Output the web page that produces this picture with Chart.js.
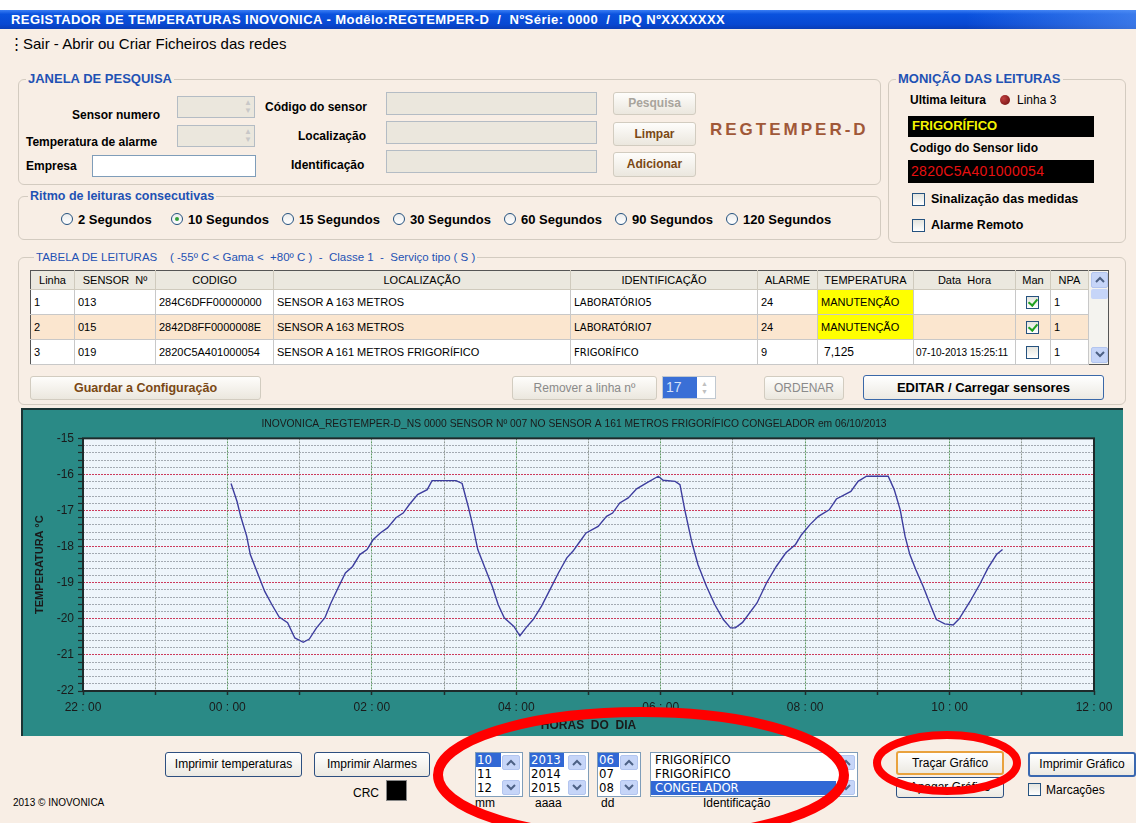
<!DOCTYPE html>
<html lang="pt">
<head>
<meta charset="utf-8">
<title>REGTEMPER-D</title>
<script src="https://cdn.jsdelivr.net/npm/chart.js@4.4.1/dist/chart.umd.min.js"></script>
<style>
  body { margin:0; width:1136px; height:823px; overflow:hidden; position:relative; background:#f8eee5; font-family:"Liberation Sans", Arial, sans-serif; color:#000; }
  .a { position:absolute; white-space:nowrap; }
  .grp { position:absolute; border:1px solid #d3cbc0; border-radius:6px; }
  .gt { position:absolute; background:#f8eee5; color:#1f52b4; font-weight:bold; font-size:13px; line-height:15px; padding:0 2px; white-space:nowrap; }
  .lb { position:absolute; font-weight:bold; font-size:12px; line-height:14px; white-space:nowrap; }
  .fld { position:absolute; background:#ebe7dd; border:1px solid #b4bcc4; box-sizing:border-box; }
  .btn { position:absolute; box-sizing:border-box; border:1px solid #d2ccc0; border-radius:3px; background:linear-gradient(#fefdfb,#ebe7de); text-align:center; font-size:12px; white-space:nowrap; }
  .btn2 { position:absolute; box-sizing:border-box; border:1px solid #2d4f80; border-radius:3px; background:linear-gradient(#ffffff,#ece9e2); text-align:center; font-size:12px; white-space:nowrap; }
  .rad { position:absolute; width:12px; height:12px; border:1px solid #25527f; border-radius:50%; background:linear-gradient(#ececec,#ffffff); box-sizing:border-box; }
  .rad.on::after { content:""; position:absolute; left:3px; top:3px; width:4px; height:4px; border-radius:50%; background:#34a03c; }
  .rl { position:absolute; font-weight:bold; font-size:13px; line-height:15px; white-space:nowrap; }
  .chk { position:absolute; width:13px; height:13px; border:1px solid #25527f; background:linear-gradient(#e4e4de,#ffffff); box-sizing:border-box; }
  .chk.on::after { content:""; position:absolute; left:3px; top:0px; width:4px; height:7px; border:solid #21a121; border-width:0 2px 2px 0; transform:rotate(40deg); }
  table.tb { position:absolute; left:30px; top:270px; border-collapse:collapse; font-size:11px; background:#fff; border:1px solid #555; table-layout:fixed; }
  table.tb th { background:#ebe8df; font-weight:normal; height:18px; padding:0; border-right:1px solid #cfcabd; border-bottom:1px solid #cfcabd; }
  table.tb td { height:24px; padding:0 0 0 3px; border-right:1px solid #c8c8c8; border-bottom:1px solid #c8c8c8; overflow:hidden; white-space:nowrap; }
  table.tb tr.r2 td { background:#fbe6cf; }
  table.tb td.y { background:#ffff00 !important; }
  table.tb td.id { font-family:"DejaVu Sans", sans-serif; font-size:10px; }
  .lst { position:absolute; background:#fff; border:1px solid #7f9db9; box-sizing:border-box; font-family:"Liberation Sans Narrow","DejaVu Sans Condensed","Liberation Sans",sans-serif; font-size:13px; line-height:13px; }
  .lst div.it { padding-left:1px; height:14px; }
  .lst div.sel { background:#3168d5; color:#fff; }
  .arw { position:absolute; width:18px; height:15px; background:#c6d5f8; border:1px solid #b3c5ef; border-radius:2px; box-sizing:border-box; }
  .arw svg { position:absolute; left:3px; top:3px; }
</style>
</head>
<body>
<div class="a" style="left:0;top:0;width:1136px;height:10px;background:#fff"></div>
<div class="a" style="left:0;top:10px;width:1136px;height:19px;background:linear-gradient(to right,rgba(0,0,0,0) 85%,rgba(90,150,245,0.6)),linear-gradient(#3a7ef4 0%,#0a52de 22%,#0848d2 75%,#0a3db6 100%)"></div>
<div class="a" style="left:11px;top:12px;font-size:13px;line-height:15px;font-weight:bold;color:#fff;letter-spacing:0.45px">REGISTADOR DE TEMPERATURAS INOVONICA - Modêlo:REGTEMPER-D &nbsp;/&nbsp; NºSérie: 0000 &nbsp;/&nbsp; IPQ NºXXXXXXX</div>

<div class="a" style="left:9px;top:35px;font-size:15px;line-height:18px">⋮</div>
<div class="a" style="left:23px;top:35px;font-size:15px;line-height:18px">Sair - Abrir ou Criar Ficheiros das redes</div>

<!-- JANELA DE PESQUISA -->
<div class="grp" style="left:18px;top:79px;width:861px;height:104px"></div>
<div class="gt" style="left:26px;top:71px">JANELA DE PESQUISA</div>
<div class="lb" style="left:72px;top:108px">Sensor numero</div>
<div class="lb" style="left:26px;top:135px">Temperatura de alarme</div>
<div class="lb" style="left:26px;top:159px">Empresa</div>
<div class="fld" style="left:177px;top:96px;width:78px;height:22px"><div class="a" style="right:2px;top:2px;color:#c8c8c8;font-size:8px;line-height:8px">▲<br>▼</div></div>
<div class="fld" style="left:177px;top:125px;width:78px;height:22px"><div class="a" style="right:2px;top:2px;color:#c8c8c8;font-size:8px;line-height:8px">▲<br>▼</div></div>
<div class="fld" style="left:92px;top:155px;width:164px;height:22px;background:#fff;border-color:#7f9db9"></div>
<div class="lb" style="left:265px;top:100px">Código do sensor</div>
<div class="lb" style="left:298px;top:129px">Localização</div>
<div class="lb" style="left:291px;top:158px">Identificação</div>
<div class="fld" style="left:386px;top:92px;width:211px;height:23px"></div>
<div class="fld" style="left:386px;top:121px;width:211px;height:23px"></div>
<div class="fld" style="left:386px;top:150px;width:211px;height:23px"></div>
<div class="btn" style="left:613px;top:92px;width:83px;height:23px;line-height:21px;color:#a8a49c;font-weight:bold">Pesquisa</div>
<div class="btn" style="left:613px;top:122px;width:83px;height:24px;line-height:22px;color:#7a4814;font-weight:bold">Limpar</div>
<div class="btn" style="left:613px;top:152px;width:83px;height:25px;line-height:23px;color:#7a4814;font-weight:bold">Adicionar</div>
<div class="a" style="left:710px;top:120px;font-size:17px;line-height:20px;font-weight:bold;color:#a05838;letter-spacing:3px">REGTEMPER-D</div>

<!-- Ritmo de leituras -->
<div class="grp" style="left:18px;top:196px;width:861px;height:42px"></div>
<div class="gt" style="left:28px;top:189px;font-size:12.5px">Ritmo de leituras consecutivas</div>
<div class="rad" style="left:61px;top:213px"></div><div class="rl" style="left:78px;top:212px">2 Segundos</div>
<div class="rad on" style="left:171px;top:213px"></div><div class="rl" style="left:188px;top:212px">10 Segundos</div>
<div class="rad" style="left:282px;top:213px"></div><div class="rl" style="left:299px;top:212px">15 Segundos</div>
<div class="rad" style="left:393px;top:213px"></div><div class="rl" style="left:410px;top:212px">30 Segundos</div>
<div class="rad" style="left:504px;top:213px"></div><div class="rl" style="left:521px;top:212px">60 Segundos</div>
<div class="rad" style="left:615px;top:213px"></div><div class="rl" style="left:632px;top:212px">90 Segundos</div>
<div class="rad" style="left:726px;top:213px"></div><div class="rl" style="left:743px;top:212px">120 Segundos</div>

<!-- MONIÇÃO DAS LEITURAS -->
<div class="grp" style="left:888px;top:79px;width:236px;height:162px"></div>
<div class="gt" style="left:896px;top:71px">MONIÇÃO DAS LEITURAS</div>
<div class="lb" style="left:910px;top:93px">Ultima leitura</div>
<div class="a" style="left:1000px;top:95px;width:10px;height:10px;border-radius:50%;background:radial-gradient(circle at 35% 35%,#c04040,#6a0c0c)"></div>
<div class="a" style="left:1017px;top:93px;font-size:12px;line-height:14px">Linha 3</div>
<div class="a" style="left:908px;top:116px;width:186px;height:21px;background:#000"></div>
<div class="a" style="left:912px;top:118px;font-size:13px;line-height:16px;font-weight:bold;color:#f4f400">FRIGORÍFICO</div>
<div class="lb" style="left:910px;top:141px">Codigo do Sensor lido</div>
<div class="a" style="left:908px;top:160px;width:186px;height:23px;background:#000"></div>
<div class="a" style="left:911px;top:163px;font-size:14px;line-height:17px;color:#e81010;letter-spacing:0.3px">2820C5A401000054</div>
<div class="chk" style="left:912px;top:193px"></div><div class="lb" style="left:931px;top:192px;font-size:12.5px">Sinalização das medidas</div>
<div class="chk" style="left:912px;top:219px"></div><div class="lb" style="left:931px;top:218px;font-size:12.5px">Alarme Remoto</div>

<!-- TABELA DE LEITURAS -->
<div class="grp" style="left:18px;top:257px;width:1106px;height:146px"></div>
<div class="a" style="left:34px;top:250px;background:#f8eee5;padding:0 2px;color:#1f52b4;font-size:11.5px;line-height:14px">TABELA DE LEITURAS &nbsp;&nbsp; ( -55º C &lt; Gama &lt; &nbsp;+80º C ) &nbsp;- &nbsp;Classe 1 &nbsp;- &nbsp;Serviço tipo ( S )</div>
<table class="tb">
  <colgroup><col style="width:44px"><col style="width:81px"><col style="width:118px"><col style="width:297px"><col style="width:187px"><col style="width:60px"><col style="width:96px"><col style="width:102px"><col style="width:35px"><col style="width:38px"><col style="width:20px"></colgroup>
  <tr><th>Linha</th><th>SENSOR &nbsp;Nº</th><th>CODIGO</th><th>LOCALIZAÇÃO</th><th>IDENTIFICAÇÃO</th><th>ALARME</th><th>TEMPERATURA</th><th>Data &nbsp;Hora</th><th>Man</th><th>NPA</th><th rowspan="4" style="background:#f4f3ef;border:none;vertical-align:top;position:relative"></th></tr>
  <tr><td>1</td><td>013</td><td>284C6DFF00000000</td><td>SENSOR A 163 METROS</td><td class="id">LABORATÓRIO5</td><td>24</td><td class="y">MANUTENÇÃO</td><td></td><td style="padding-left:10px"><div class="chk on" style="position:relative"></div></td><td>1</td></tr>
  <tr class="r2"><td>2</td><td>015</td><td>2842D8FF0000008E</td><td>SENSOR A 163 METROS</td><td class="id">LABORATÓRIO7</td><td>24</td><td class="y">MANUTENÇÃO</td><td></td><td style="padding-left:10px"><div class="chk on" style="position:relative"></div></td><td>1</td></tr>
  <tr><td>3</td><td>019</td><td>2820C5A401000054</td><td>SENSOR A 161 METROS FRIGORÍFICO</td><td class="id">FRIGORÍFICO</td><td>9</td><td style="padding-left:6px;font-size:12px">7,125</td><td style="font-size:10px;padding-left:2px">07-10-2013 15:25:11</td><td style="padding-left:10px"><div class="chk" style="position:relative"></div></td><td>1</td></tr>
</table>
<div class="arw" style="left:1091px;top:272px;width:17px;height:16px"><svg width="10" height="7"><path d="M1 6 L5 2 L9 6" stroke="#4d6185" stroke-width="2" fill="none"/></svg></div>
<div class="a" style="left:1091px;top:289px;width:17px;height:10px;background:#c6d5f8;border-radius:2px"></div>
<div class="arw" style="left:1091px;top:347px;width:17px;height:16px"><svg width="10" height="7"><path d="M1 1 L5 5 L9 1" stroke="#4d6185" stroke-width="2" fill="none"/></svg></div>

<div class="btn" style="left:30px;top:376px;width:231px;height:24px;line-height:22px;color:#7a4814;font-weight:bold;font-size:12.5px">Guardar a Configuração</div>
<div class="btn" style="left:512px;top:376px;width:145px;height:24px;line-height:22px;color:#8a8a8a">Remover a linha nº</div>
<div class="a" style="left:662px;top:376px;width:54px;height:23px;background:#fff;border:1px solid #c0c8d0;box-sizing:border-box"></div>
<div class="a" style="left:663px;top:377px;width:34px;height:21px;background:#3a6fd6;color:#d6e2fa;font-size:14px;line-height:21px;padding-left:3px;box-sizing:border-box">17</div>
<div class="a" style="left:701px;top:380px;color:#c0c0c0;font-size:7px;line-height:8px">▲<br>▼</div>
<div class="btn" style="left:764px;top:376px;width:80px;height:24px;line-height:22px;color:#8a8a8a">ORDENAR</div>
<div class="btn2" style="left:863px;top:375px;width:241px;height:25px;line-height:23px;font-weight:bold;font-size:13px;border-color:#3a68a8">EDITAR / Carregar sensores</div>

<!-- Painel do gráfico -->
<div class="a" style="left:22px;top:409px;width:1101px;height:327px;background:#2a8a86">
  <canvas id="grafico" width="1101" height="327" style="position:absolute;left:0;top:0;width:1101px;height:327px"></canvas>
</div>
<div class="a" style="left:22px;top:408px;width:1101px;height:2px;background:#1c3434"></div>
<div class="a" style="left:21px;top:408px;width:2px;height:328px;background:#1c3434"></div>

<!-- Rodapé -->
<div class="btn2" style="left:165px;top:752px;width:137px;height:25px;line-height:23px">Imprimir temperaturas</div>
<div class="btn2" style="left:314px;top:752px;width:116px;height:25px;line-height:23px">Imprimir Alarmes</div>
<div class="a" style="left:353px;top:786px;font-size:12px;line-height:15px">CRC</div>
<div class="a" style="left:386px;top:780px;width:21px;height:21px;background:#000;border:1px solid #888;box-sizing:border-box"></div>
<div class="a" style="left:13px;top:797px;font-size:10px;line-height:12px">2013 © INOVONICA</div>

<div class="lst" style="left:475px;top:752px;width:48px;height:45px">
  <div class="it sel" style="width:24px">10</div><div class="it">11</div><div class="it">12</div>
  <div class="arw" style="left:26px;top:2px"><svg width="10" height="7"><path d="M1 6 L5 2 L9 6" stroke="#4d6185" stroke-width="2" fill="none"/></svg></div>
  <div class="arw" style="left:26px;top:27px"><svg width="10" height="7"><path d="M1 1 L5 5 L9 1" stroke="#4d6185" stroke-width="2" fill="none"/></svg></div>
</div>
<div class="a" style="left:475px;top:797px;font-size:12px;line-height:12px">mm</div>
<div class="lst" style="left:529px;top:752px;width:60px;height:45px">
  <div class="it sel" style="width:33px">2013</div><div class="it">2014</div><div class="it">2015</div>
  <div class="arw" style="left:38px;top:2px"><svg width="10" height="7"><path d="M1 6 L5 2 L9 6" stroke="#4d6185" stroke-width="2" fill="none"/></svg></div>
  <div class="arw" style="left:38px;top:27px"><svg width="10" height="7"><path d="M1 1 L5 5 L9 1" stroke="#4d6185" stroke-width="2" fill="none"/></svg></div>
</div>
<div class="a" style="left:535px;top:797px;font-size:12px;line-height:12px">aaaa</div>
<div class="lst" style="left:597px;top:752px;width:44px;height:45px">
  <div class="it sel" style="width:20px">06</div><div class="it">07</div><div class="it">08</div>
  <div class="arw" style="left:22px;top:2px"><svg width="10" height="7"><path d="M1 6 L5 2 L9 6" stroke="#4d6185" stroke-width="2" fill="none"/></svg></div>
  <div class="arw" style="left:22px;top:27px"><svg width="10" height="7"><path d="M1 1 L5 5 L9 1" stroke="#4d6185" stroke-width="2" fill="none"/></svg></div>
</div>
<div class="a" style="left:601px;top:797px;font-size:12px;line-height:12px">dd</div>
<div class="lst" style="left:650px;top:752px;width:208px;height:45px;padding-left:3px">
  <div class="it">FRIGORÍFICO</div><div class="it">FRIGORÍFICO</div><div class="it sel" style="width:181px;margin-left:-3px;padding-left:4px">CONGELADOR</div>
  <div class="arw" style="left:186px;top:2px"><svg width="10" height="7"><path d="M1 6 L5 2 L9 6" stroke="#4d6185" stroke-width="2" fill="none"/></svg></div>
  <div class="arw" style="left:186px;top:27px"><svg width="10" height="7"><path d="M1 1 L5 5 L9 1" stroke="#4d6185" stroke-width="2" fill="none"/></svg></div>
</div>
<div class="a" style="left:703px;top:797px;font-size:12px;line-height:12px">Identificação</div>

<div class="btn2" style="left:896px;top:777px;width:108px;height:21px;line-height:19px">Apagar Gráfico</div>
<div class="btn2" style="left:896px;top:751px;width:108px;height:24px;line-height:20px;border:2px solid #e9a23e">Traçar Gráfico</div>
<div class="btn2" style="left:1028px;top:752px;width:108px;height:25px;line-height:21px;border:2px solid #3a68b0">Imprimir Gráfico</div>
<div class="chk" style="left:1028px;top:783px"></div>
<div class="a" style="left:1046px;top:783px;font-size:12px;line-height:14px">Marcações</div>

<!-- marcas vermelhas -->
<svg class="a" style="left:0;top:0" width="1136" height="823">
  <ellipse cx="641" cy="775" rx="203" ry="63" fill="none" stroke="#ff0000" stroke-width="10"/>
  <ellipse cx="947" cy="763" rx="70" ry="28" fill="none" stroke="#ff0000" stroke-width="8"/>
</svg>

<script>
// Leituras do sensor (hora do dia, temperatura em ºC)
const horas = [
  '00:03','00:08','00:11','00:16','00:19','00:25','00:31','00:37','00:43','00:50',
  '00:56','01:03','01:08','01:14','01:21','01:26','01:32','01:38','01:44','01:50',
  '01:56','02:01','02:07','02:13','02:20','02:26','02:31','02:38','02:46','02:50',
  '03:10','03:15','03:20','03:24','03:28','03:34','03:40','03:45','03:50','03:58',
  '04:03','04:08','04:14','04:21','04:28','04:35','04:42','04:47','04:53','04:58',
  '05:08','05:15','05:20','05:26','05:33','05:40','05:48','05:58','06:02','06:12',
  '06:16','06:20','06:26','06:31','06:38','06:45','06:52','06:58','07:02','07:08',
  '07:20','07:28','07:36','07:44','07:52','07:57','08:04','08:11','08:20','08:26',
  '08:38','08:44','08:51','09:09','09:14','09:19','09:23','09:27','09:32','09:38',
  '09:44','09:49','09:56','10:03','10:08','10:17','10:25','10:32','10:39','10:44'
];
const temperaturas = [
  -16.25,-16.75,-17.16,-17.71,-18.22,-18.73,-19.24,-19.61,-19.95,-20.11,
  -20.53,-20.65,-20.56,-20.25,-19.97,-19.56,-19.14,-18.73,-18.55,-18.22,
  -18.08,-17.81,-17.62,-17.48,-17.20,-17.07,-16.84,-16.56,-16.42,-16.17,
  -16.17,-16.25,-16.88,-17.44,-18.08,-18.59,-19.10,-19.61,-19.97,-20.21,
  -20.47,-20.25,-20.02,-19.65,-19.19,-18.73,-18.31,-18.13,-17.85,-17.62,
  -17.44,-17.16,-17.07,-16.79,-16.65,-16.40,-16.24,-16.05,-16.16,-16.19,
  -16.28,-16.98,-17.90,-18.50,-19.10,-19.61,-20.02,-20.25,-20.25,-20.10,
  -19.56,-19.00,-18.55,-18.17,-17.94,-17.67,-17.39,-17.16,-16.98,-16.68,
  -16.47,-16.19,-16.05,-16.05,-16.42,-16.98,-17.71,-18.22,-18.64,-19.10,
  -19.61,-20.02,-20.14,-20.17,-20.00,-19.52,-19.05,-18.59,-18.22,-18.08
];

// Eixo X: das 22:00 (véspera) às 12:00
const rotulosHoras = ['22 : 00','00 : 00','02 : 00','04 : 00','06 : 00','08 : 00','10 : 00','12 : 00'];
const horaInicio = -2;
const horaFim = 12;
// Eixo Y
const tempMin = -22;
const tempMax = -15;

const tituloGrafico = 'INOVONICA_REGTEMPER-D_NS 0000 SENSOR Nº 007 NO SENSOR A 161 METROS FRIGORÍFICO CONGELADOR em 06/10/2013';

function horaDecimal(txt) {
    const [h, m] = txt.split(':').map(Number);
    return h + m / 60;
}

function inteiro(v) {
    return Math.abs(v - Math.round(v)) < 1e-6;
}

// fundo e moldura da área do gráfico
const molduraPlugin = {
    id: 'moldura',
    beforeDraw(chart) {
        const a = chart.chartArea;
        const ctx = chart.ctx;
        ctx.save();
        ctx.fillStyle = '#eef5fb';
        ctx.fillRect(a.left, a.top, a.right - a.left, a.bottom - a.top);
        ctx.restore();
    },
    afterDraw(chart) {
        const a = chart.chartArea;
        const ctx = chart.ctx;
        ctx.save();
        ctx.strokeStyle = '#1e2a2a';
        ctx.lineWidth = 2;
        ctx.strokeRect(a.left, a.top, a.right - a.left, a.bottom - a.top);
        ctx.restore();
    }
};

function renderChart() {
    const pontos = horas.map((h, i) => ({ x: horaDecimal(h), y: temperaturas[i] }));
    const fonte = '"Liberation Sans", Arial, sans-serif';

    const ctx = document.getElementById('grafico').getContext('2d');
    new Chart(ctx, {
        type: 'line',
        data: {
            datasets: [{
                data: pontos,
                borderColor: '#3d3d9e',
                borderWidth: 1.4,
                pointRadius: 0,
                tension: 0,
                fill: false
            }]
        },
        options: {
            responsive: false,
            animation: false,
            // margem esquerda desloca o título para o centro da área do gráfico
            layout: { padding: { top: 0, right: 29, bottom: 0, left: 32 } },
            plugins: {
                legend: { display: false },
                tooltip: { enabled: false },
                title: {
                    display: true,
                    text: tituloGrafico,
                    color: '#1a1a1a',
                    font: { size: 10.3, family: fonte, weight: 'normal' },
                    padding: { top: 9, bottom: 8 }
                }
            },
            scales: {
                x: {
                    type: 'linear',
                    min: horaInicio,
                    max: horaFim,
                    afterFit(scale) { scale.height = 45; },
                    ticks: {
                        stepSize: 1,
                        autoSkip: false,
                        maxRotation: 0,
                        padding: 5,
                        color: '#1a1a1a',
                        font: { size: 12, family: fonte },
                        callback: v => (v - horaInicio) % 2 === 0 ? rotulosHoras[(v - horaInicio) / 2] : ''
                    },
                    grid: {
                        color: c => (c.tick && (c.tick.value - horaInicio) % 2 === 0) ? '#5f9a62' : '#8f9892',
                        lineWidth: 1,
                        tickLength: 4,
                        tickColor: '#1e2a2a',
                        tickWidth: 1.5
                    },
                    border: { display: false, dash: [2, 1] },
                    title: {
                        display: true,
                        text: 'HORAS  DO  DIA',
                        color: '#1a1a1a',
                        font: { size: 12, weight: 'bold', family: fonte },
                        padding: { top: 0, bottom: 3 }
                    }
                },
                y: {
                    min: tempMin,
                    max: tempMax,
                    afterFit(scale) { scale.width = 29; },
                    ticks: {
                        stepSize: 0.2,
                        autoSkip: false,
                        padding: 4,
                        color: '#1a1a1a',
                        font: { size: 12, family: fonte },
                        callback: v => inteiro(v) ? String(Math.round(v)) : ''
                    },
                    grid: {
                        color: c => (c.tick && inteiro(c.tick.value)) ? '#cc3a5c' : '#a3aab2',
                        lineWidth: 1,
                        tickLength: 5,
                        tickColor: '#1e2a2a',
                        tickWidth: 1.2
                    },
                    border: { display: false, dash: [2, 1] },
                    title: {
                        display: true,
                        text: 'TEMPERATURA ºC',
                        color: '#1a1a1a',
                        font: { size: 11, weight: 'bold', family: fonte },
                        padding: { top: -21, bottom: 0 }
                    }
                }
            }
        },
        plugins: [molduraPlugin]
    });
}

window.addEventListener('DOMContentLoaded', () => {
    renderChart();
});
</script>
</body>
</html>
